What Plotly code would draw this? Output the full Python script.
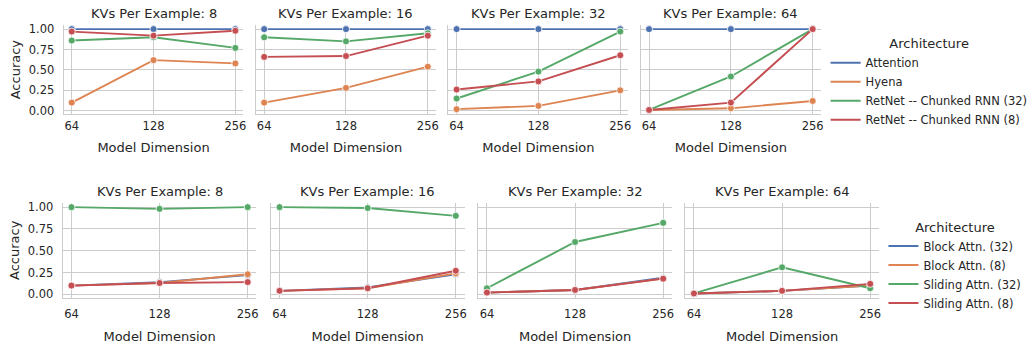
import plotly.graph_objects as go

OFF = 0
W, H = 1036, 346

dims = [64, 128, 256]
kvs = [8, 16, 32, 64]
dim_ticks = ["64", "128", "256"]
acc_ticks = [0.0, 0.25, 0.5, 0.75, 1.0]
acc_tick_labels = ["0.00", "0.25", "0.50", "0.75", "1.00"]

# ---- top row: accuracy per KV count, rows = kvs (8,16,32,64), cols = dims ----
top_names = ["Attention", "Hyena", "RetNet -- Chunked RNN (32)", "RetNet -- Chunked RNN (8)"]
attention_acc = [[1.0, 1.0, 1.0], [1.0, 1.0, 1.0], [1.0, 1.0, 1.0], [1.0, 1.0, 1.0]]
hyena_acc = [[0.10, 0.62, 0.58], [0.10, 0.28, 0.54], [0.02, 0.06, 0.25], [0.01, 0.03, 0.12]]
retnet32_acc = [[0.86, 0.90, 0.77], [0.90, 0.85, 0.95], [0.15, 0.48, 0.97], [0.01, 0.42, 1.0]]
retnet8_acc = [[0.97, 0.92, 0.98], [0.66, 0.67, 0.92], [0.26, 0.36, 0.68], [0.01, 0.10, 1.0]]

# ---- bottom row ----
bottom_names = ["Block Attn. (32)", "Block Attn. (8)", "Sliding Attn. (32)", "Sliding Attn. (8)"]
block32_acc = [[0.10, 0.14, 0.22], [0.04, 0.08, 0.23], [0.02, 0.05, 0.19], [0.01, 0.04, 0.10]]
block8_acc = [[0.10, 0.13, 0.23], [0.04, 0.07, 0.24], [0.02, 0.05, 0.18], [0.01, 0.04, 0.10]]
sliding32_acc = [[1.0, 0.98, 1.0], [1.0, 0.99, 0.90], [0.07, 0.60, 0.82], [0.01, 0.31, 0.07]]
sliding8_acc = [[0.10, 0.13, 0.14], [0.04, 0.07, 0.27], [0.02, 0.05, 0.18], [0.01, 0.04, 0.12]]

colors = ["#4c72b0", "#dd8452", "#55a868", "#c44e52"]
TXT = "#262626"
GRID = "#cccccc"
FONT = "DejaVu Sans"

top_series = [attention_acc, hyena_acc, retnet32_acc, retnet8_acc]
bottom_series = [block32_acc, block8_acc, sliding32_acc, sliding8_acc]

# panel geometry in page pixels
top_lefts = [63.8, 256.8, 449.8, 642.8]
top_w = 180.4
top_y = (22.5, 113.5)
bot_lefts = [62.9, 271.6, 479.6, 687.2]
bot_w = 194.3
bot_y = (203.9, 300.9)


def px_x(v):
    return (v - OFF) / W


def px_y(v):
    return 1 - (v - OFF) / H


fig = go.Figure()
layout = {}
annotations = []
xr = [1.7763, 2.4382]

rows = [
    (top_lefts, top_w, top_y, top_series, top_names, "legend", [-0.042, 1.05], 1, 10),
    (bot_lefts, bot_w, bot_y, bottom_series, bottom_names, "legend2", [-0.04, 1.05], 5, 12),
]

for row, (lefts, width, ys, series, names, leg, yrange, lab_off, tit_off) in enumerate(rows):
    for c in range(4):
        idx = row * 4 + c + 1
        xa = "xaxis" if idx == 1 else f"xaxis{idx}"
        ya = "yaxis" if idx == 1 else f"yaxis{idx}"
        xref = "x" if idx == 1 else f"x{idx}"
        yref = "y" if idx == 1 else f"y{idx}"
        layout[xa] = dict(
            domain=[px_x(lefts[c]), px_x(lefts[c] + width)],
            anchor=yref, type="log", range=xr,
            tickvals=dims, ticktext=dim_ticks,
            showgrid=True, gridcolor=GRID, gridwidth=1,
            showline=True, linecolor=GRID, linewidth=1,
            zeroline=False, ticks="", ticklabelstandoff=lab_off,
            tickfont=dict(family=FONT, size=11.5, color=TXT),
            title=dict(text="Model Dimension", standoff=tit_off,
                       font=dict(family=FONT, size=13, color=TXT)),
        )
        layout[ya] = dict(
            domain=[px_y(ys[1]), px_y(ys[0])],
            anchor=xref, range=yrange,
            tickvals=acc_ticks, ticktext=acc_tick_labels,
            showticklabels=(c == 0),
            showgrid=True, gridcolor=GRID, gridwidth=1,
            showline=True, linecolor=GRID, linewidth=1,
            zeroline=False, ticks="", ticklabelstandoff=6,
            tickfont=dict(family=FONT, size=11.5, color=TXT),
            title=dict(text="Accuracy" if c == 0 else "", standoff=5,
                       font=dict(family=FONT, size=13, color=TXT)),
        )
        annotations.append(dict(
            text=f"KVs Per Example: {kvs[c]}",
            x=px_x(lefts[c] + width / 2), y=px_y(ys[0] - 12),
            xref="paper", yref="paper", xanchor="center", yanchor="middle",
            showarrow=False, font=dict(family=FONT, size=13, color=TXT),
        ))
        for s, (vals, name) in enumerate(zip(series, names)):
            fig.add_trace(go.Scatter(
                x=dims, y=vals[c], mode="lines+markers", name=name,
                xaxis=xref, yaxis=yref, showlegend=False, legend=leg,
                line=dict(color=colors[s], width=1.9),
                marker=dict(size=7, color=colors[s], line=dict(color="white", width=0.8)),
            ))
    # legend-only entries (lines without markers, as in the reference)
    for s, name in enumerate(names):
        fig.add_trace(go.Scatter(
            x=[None], y=[None], mode="lines", name=name,
            xaxis="x" if row == 0 else "x5", yaxis="y" if row == 0 else "y5",
            showlegend=True, legend=leg,
            line=dict(color=colors[s], width=1.9),
        ))

legend_common = dict(
    xanchor="left", yanchor="top",
    title=dict(text="Architecture", side="top center",
               font=dict(family=FONT, size=13, color=TXT)),
    font=dict(family=FONT, size=11.5, color=TXT),
    itemwidth=30, tracegroupgap=0, bgcolor="rgba(0,0,0,0)",
)

fig.update_layout(
    width=W, height=H,
    margin=dict(l=0, r=0, t=0, b=0),
    paper_bgcolor="white", plot_bgcolor="white",
    font=dict(family=FONT, color=TXT),
    annotations=annotations,
    legend=dict(x=px_x(828), y=px_y(29), **legend_common),
    legend2=dict(x=px_x(886), y=px_y(216), **legend_common),
    **layout,
)

# remove the browser's default 8px body margin so the figure fills the window
fig.write_html(
    "out.html",
    config={"displayModeBar": False},
    post_script="document.body.style.margin='0';document.body.style.overflow='hidden';",
)
